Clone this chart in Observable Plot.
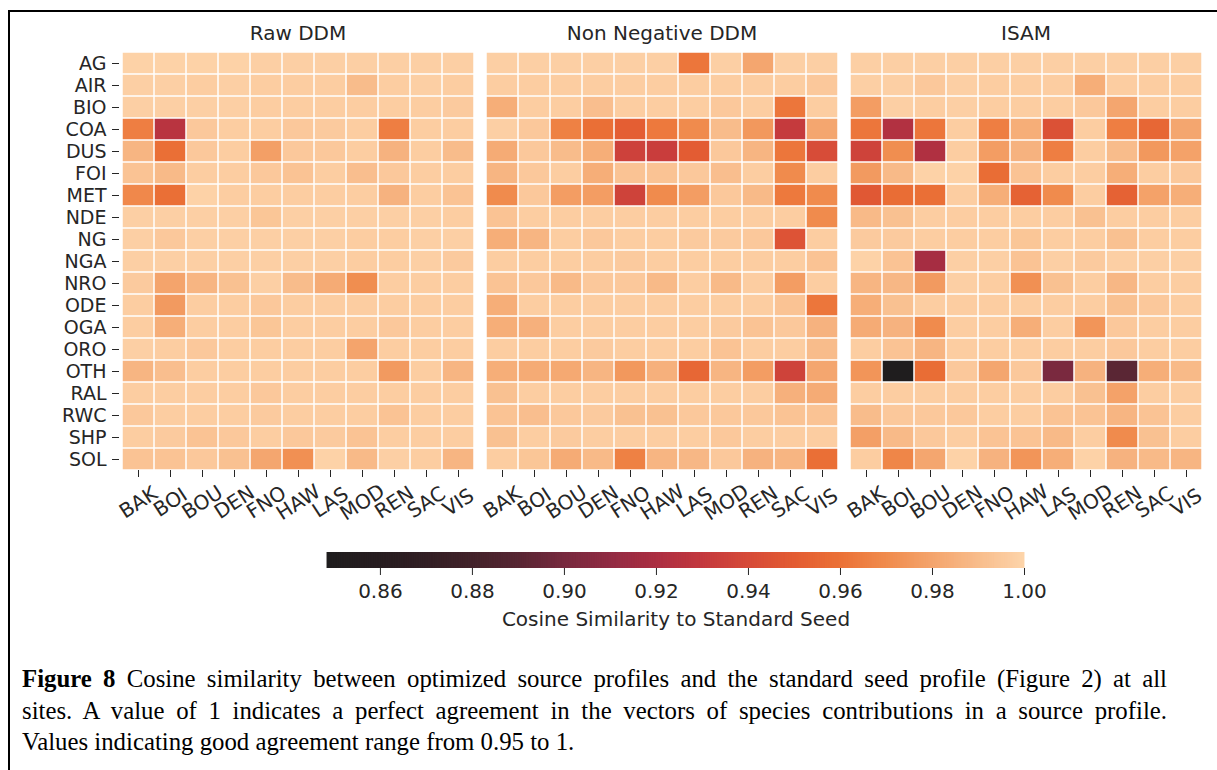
<!DOCTYPE html>
<html>
<head>
<meta charset="utf-8">
<script src="https://cdn.jsdelivr.net/npm/d3@7"></script>
<script src="https://cdn.jsdelivr.net/npm/@observablehq/plot@0.6"></script>
<style>
  html, body { margin: 0; padding: 0; background: #fff; }
  body { width: 1217px; height: 770px; position: relative; overflow: hidden; }
  #frame { position: absolute; left: 8px; top: 10px; width: 1300px; height: 800px;
           border-top: 2px solid #000; border-left: 2px solid #000; }
  #heat { position: absolute; left: 0; top: 0; }
  #cbar { position: absolute; left: 0; top: 540px; }
  #caption { position: absolute; left: 22px; top: 663px; width: 1145px;
             font-family: "Liberation Serif", "Times New Roman", serif; font-size: 24.8px;
             line-height: 31.5px; color: #000; white-space: nowrap; }
  #caption div { height: 31.5px; }
  #caption div.j { text-align: justify; text-align-last: justify; white-space: normal; }
</style>
</head>
<body>
<div id="frame"></div>
<div id="heat"></div>
<div id="cbar"></div>
<div id="caption">
  <div class="j"><span style="font-weight:bold">Figure 8</span><span> Cosine similarity between optimized source profiles and the standard seed profile (Figure 2) at all</span></div>
  <div class="j"><span>sites. A value of 1 indicates a perfect agreement in the vectors of species contributions in a source profile.</span></div>
  <div><span>Values indicating good agreement range from 0.95 to 1.</span></div>
</div>
<script>
const panels = ["Raw DDM", "Non Negative DDM", "ISAM"];
const sources = ["AG","AIR","BIO","COA","DUS","FOI","MET","NDE","NG","NGA","NRO","ODE","OGA","ORO","OTH","RAL","RWC","SHP","SOL"];
const sites = ["BAK","BOI","BOU","DEN","FNO","HAW","LAS","MOD","REN","SAC","VIS"];

// rows follow `sources`, columns follow `sites`
const rawDDM = [
  [0.999,0.999,0.999,0.999,0.998,0.998,0.998,0.998,0.998,0.998,0.998],
  [0.998,0.998,0.997,0.998,0.997,0.997,0.997,0.990,0.997,0.998,0.997],
  [0.998,0.998,0.998,0.998,0.997,0.997,0.997,0.997,0.997,0.997,0.996],
  [0.965,0.926,0.995,0.997,0.997,0.995,0.996,0.997,0.965,0.997,0.997],
  [0.987,0.959,0.995,0.997,0.978,0.995,0.995,0.997,0.986,0.997,0.990],
  [0.993,0.989,0.997,0.997,0.995,0.993,0.997,0.991,0.995,0.997,0.997],
  [0.969,0.959,0.999,0.997,0.997,0.997,0.997,0.997,0.986,0.997,0.993],
  [0.998,0.998,0.998,0.998,0.994,0.998,0.998,0.998,0.998,0.998,0.997],
  [0.998,0.995,0.998,0.998,0.998,0.998,0.998,0.997,0.997,0.998,0.998],
  [0.998,0.998,0.998,0.998,0.998,0.998,0.998,0.997,0.997,0.998,0.996],
  [0.996,0.980,0.987,0.992,0.998,0.990,0.983,0.971,0.997,0.997,0.997],
  [0.997,0.976,0.997,0.997,0.995,0.997,0.997,0.997,0.997,0.997,0.997],
  [0.997,0.984,0.997,0.997,0.994,0.997,0.997,0.997,0.995,0.997,0.997],
  [0.998,0.997,0.995,0.997,0.997,0.997,0.997,0.980,0.997,0.997,0.997],
  [0.987,0.991,0.997,0.997,0.997,0.997,0.997,0.997,0.976,0.997,0.987],
  [0.997,0.997,0.997,0.997,0.995,0.997,0.997,0.997,0.997,0.997,0.997],
  [0.995,0.997,0.997,0.997,0.996,0.997,0.997,0.997,0.993,0.997,0.997],
  [0.997,0.996,0.993,0.995,0.997,0.995,0.996,0.993,0.997,0.997,0.997],
  [0.993,0.993,0.995,0.992,0.981,0.972,0.999,0.989,0.998,0.997,0.987]
];
const nonNegDDM = [
  [0.998,0.998,0.998,0.998,0.998,0.998,0.962,0.998,0.981,0.998,0.998],
  [0.997,0.997,0.997,0.997,0.997,0.997,0.997,0.997,0.997,0.997,0.995],
  [0.984,0.997,0.997,0.991,0.997,0.997,0.997,0.995,0.997,0.962,0.997],
  [0.998,0.995,0.966,0.959,0.951,0.963,0.970,0.990,0.975,0.931,0.981],
  [0.983,0.995,0.990,0.984,0.935,0.933,0.950,0.995,0.987,0.962,0.941],
  [0.987,0.995,0.997,0.984,0.993,0.993,0.995,0.991,0.997,0.970,0.997],
  [0.970,0.995,0.977,0.977,0.936,0.970,0.977,0.995,0.989,0.963,0.970],
  [0.993,0.997,0.997,0.997,0.997,0.997,0.997,0.997,0.997,0.997,0.970],
  [0.984,0.987,0.997,0.995,0.997,0.997,0.996,0.996,0.995,0.945,0.997],
  [0.997,0.997,0.997,0.997,0.996,0.997,0.997,0.997,0.997,0.997,0.993],
  [0.993,0.995,0.989,0.995,0.995,0.989,0.997,0.989,0.997,0.977,0.997],
  [0.984,0.997,0.997,0.997,0.997,0.997,0.997,0.997,0.997,0.993,0.962],
  [0.984,0.985,0.997,0.997,0.997,0.997,0.997,0.996,0.993,0.995,0.986],
  [0.997,0.997,0.997,0.996,0.997,0.997,0.997,0.993,0.997,0.997,0.990],
  [0.984,0.983,0.982,0.987,0.975,0.985,0.955,0.987,0.977,0.936,0.981],
  [0.992,0.997,0.997,0.997,0.997,0.997,0.997,0.997,0.997,0.985,0.983],
  [0.993,0.991,0.995,0.996,0.992,0.992,0.995,0.995,0.995,0.993,0.993],
  [0.992,0.997,0.996,0.997,0.997,0.997,0.997,0.995,0.997,0.997,0.997],
  [0.997,0.994,0.983,0.989,0.966,0.987,0.988,0.995,0.986,0.987,0.959]
];
const isam = [
  [0.998,0.998,0.998,0.998,0.998,0.998,0.998,0.998,0.998,0.998,0.998],
  [0.998,0.998,0.995,0.998,0.997,0.997,0.997,0.984,0.997,0.997,0.997],
  [0.977,0.998,0.997,0.998,0.997,0.997,0.997,0.995,0.981,0.997,0.997],
  [0.962,0.923,0.962,0.997,0.965,0.984,0.944,0.997,0.965,0.955,0.981],
  [0.936,0.971,0.922,0.997,0.977,0.986,0.965,0.997,0.990,0.975,0.979],
  [0.976,0.989,0.999,0.999,0.958,0.993,0.997,0.997,0.984,0.997,0.995],
  [0.948,0.958,0.959,0.997,0.984,0.953,0.970,0.997,0.953,0.979,0.984],
  [0.989,0.992,0.997,0.997,0.997,0.997,0.997,0.992,0.997,0.997,0.997],
  [0.996,0.996,0.997,0.997,0.997,0.994,0.997,0.997,0.992,0.997,0.997],
  [0.999,0.993,0.918,0.998,0.998,0.993,0.998,0.996,0.998,0.998,0.998],
  [0.987,0.988,0.976,0.998,0.997,0.972,0.992,0.997,0.988,0.997,0.997],
  [0.984,0.992,0.997,0.997,0.997,0.997,0.997,0.997,0.992,0.995,0.997],
  [0.983,0.986,0.970,0.997,0.997,0.984,0.997,0.974,0.995,0.997,0.997],
  [0.997,0.993,0.987,0.997,0.997,0.997,0.997,0.997,0.995,0.997,0.997],
  [0.974,0.849,0.958,0.995,0.981,0.995,0.901,0.986,0.891,0.984,0.989],
  [0.997,0.997,0.997,0.997,0.997,0.997,0.997,0.992,0.979,0.997,0.997],
  [0.990,0.995,0.995,0.995,0.997,0.997,0.993,0.993,0.987,0.993,0.997],
  [0.978,0.989,0.995,0.997,0.993,0.993,0.989,0.997,0.970,0.992,0.997],
  [0.997,0.968,0.981,0.999,0.986,0.974,0.984,0.999,0.986,0.989,0.987]
];
const colorbarTicks = [0.86, 0.88, 0.90, 0.92, 0.94, 0.96, 0.98, 1.00];
const colorbarTitle = "Cosine Similarity to Standard Seed";

// colormap stops (value -> colour)
const cmapStops = [0.8485,0.86,0.87,0.88,0.89,0.90,0.91,0.92,0.93,0.94,0.95,0.96,0.97,0.98,0.99,1.00];
const cmapColors = ["#1f1d1e","#271d20","#321f24","#42222a","#572633","#77293e","#912b43","#ab2e42",
                    "#c3383e","#d64a38","#e35c33","#eb7136","#f08b4d","#f4a46c","#f8bc8b","#fdd4aa"];
const vmin = 0.8485, vmax = 1.0;
const cmap = d3.scaleLinear(cmapStops, cmapColors).interpolate(d3.interpolateRgb).clamp(true);
const colorOpts = { type: "linear", domain: [vmin, vmax], interpolate: t => cmap(vmin + t * (vmax - vmin)) };

const panelData = [rawDDM, nonNegDDM, isam];
const cells = [];
panels.forEach((p, pi) => sources.forEach((s, ri) => sites.forEach((c, ci) =>
  cells.push({ panel: p, source: s, site: c, value: panelData[pi][ri][ci] }))));

const font = "DejaVu Sans, sans-serif";

const heat = Plot.plot({
  width: 1217, height: 530,
  marginLeft: 119, marginRight: 12, marginTop: 52, marginBottom: 60,
  style: { fontFamily: font, fontSize: "19px", color: "#262626", background: "transparent" },
  fx: { domain: panels, padding: 0.0192, label: null },
  x: { domain: sites, padding: 0, label: null },
  y: { domain: sources, padding: 0, label: null },
  color: colorOpts,
  marks: [
    Plot.cell(cells, { fx: "panel", x: "site", y: "source", fill: "value", inset: 0.75 }),
    Plot.axisY({ tickSize: 7, tickPadding: 6, label: null, fontSize: 19, stroke: "#262626" }),
    Plot.axisX({ tickSize: 7, tickPadding: 25, tickRotate: -33, textAnchor: "middle", lineAnchor: "middle",
                 label: null, fontSize: 20, stroke: "#262626" }),
    Plot.axisFx({ anchor: "top", tickSize: 0, tickPadding: 13, label: null, fontSize: 20 })
  ]
});
document.getElementById("heat").appendChild(heat);

// colorbar ramp: thin slices across the colour domain
const rampN = 400;
const ramp = d3.range(rampN).map(i => vmin + (i + 0.5) * (vmax - vmin) / rampN);
const rampStep = (vmax - vmin) / rampN;
const cbar = Plot.plot({
  width: 1217, height: 100,
  marginLeft: 327, marginRight: 193, marginTop: 12, marginBottom: 72,
  style: { fontFamily: font, fontSize: "20px", color: "#262626", background: "transparent" },
  x: { domain: [vmin, vmax], label: null },
  y: { domain: [0, 1], axis: null },
  color: colorOpts,
  marks: [
    Plot.rect(ramp, { x1: d => d - rampStep / 2 - 0.0001, x2: d => d + rampStep / 2 + 0.0001, y1: 0, y2: 1, fill: d => d }),
    Plot.axisX({ ticks: colorbarTicks, tickFormat: d3.format(".2f"), tickSize: 7, tickPadding: 8,
                 label: null, fontSize: 20, stroke: "#262626" }),
    Plot.text([colorbarTitle], { text: d => d, frameAnchor: "bottom", dy: 51, lineAnchor: "middle",
                                 fontSize: 20, fill: "#262626" })
  ]
});
document.getElementById("cbar").appendChild(cbar);
</script>
</body>
</html>
